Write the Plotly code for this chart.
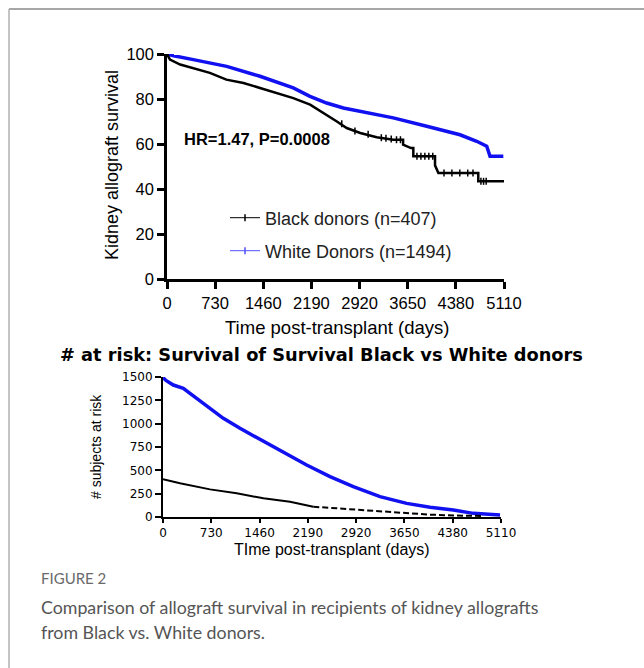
import plotly.graph_objects as go

# ---------------- data ----------------
x_ticks = [0, 730, 1460, 2190, 2920, 3650, 4380, 5110]
surv_ticks = [0, 20, 40, 60, 80, 100]
risk_ticks = [0, 250, 500, 750, 1000, 1250, 1500]

# Kaplan-Meier, White donors (n=1494)
white_days = [0, 100, 399, 905, 1410, 1915, 2168, 2421, 2674, 2927, 3431, 3938,
              4443, 4696, 4848, 4898, 5100]
white_surv = [100, 99.2, 97.5, 94.5, 90.1, 84.9, 81.2, 78.2, 76.0, 74.5, 71.6, 67.9,
              64.1, 61.2, 59.0, 54.5, 54.5]

# Kaplan-Meier, Black donors (n=407)
black_days = [0, 20, 45, 200, 400, 650, 900, 1160, 1410, 1660, 1915, 2170, 2420, 2570,
              2725, 2930, 3180, 3430, 3580, 3580, 3700, 3735, 3735, 4064, 4064, 4115,
              4720, 4720, 5110]
black_surv = [100, 98.5, 97.5, 95.3, 93.8, 91.6, 88.6, 87.1, 84.9, 82.7, 80.4, 77.5, 73.0, 70.1,
              67.1, 64.9, 63.0, 61.9, 61.9, 59.7, 58.2, 58.2, 54.5, 54.5, 50.5, 47.1,
              47.1, 43.4, 43.4]

# censored observations (tick marks) on the Black donor curve
black_cens_days = [2650, 2850, 3050, 3250, 3320, 3400, 3480, 3540, 3790, 3850, 3910,
                   3970, 4030, 4200, 4320, 4440, 4560, 4640, 4760, 4800, 4840]
black_cens_surv = [69.0, 65.8, 64.3, 62.8, 62.6, 62.2, 61.9, 61.9, 54.5, 54.5, 54.5,
                   54.5, 54.5, 47.1, 47.1, 47.1, 47.1, 47.1, 43.4, 43.4, 43.4]

# Number at risk
white_risk_days = [0, 50, 156, 257, 307, 408, 509, 761, 912, 1164, 1467, 1819, 2172,
                   2525, 2877, 3281, 3684, 4037, 4389, 4691, 5095]
white_risk = [1494, 1460, 1414, 1386, 1379, 1325, 1272, 1146, 1057, 950, 830, 700, 557,
              432, 325, 218, 146, 104, 75, 39, 21]
black_risk_days = [0, 257, 711, 1114, 1517, 1920, 2272, 2626, 3028, 3533, 4037, 4540, 4842]
black_risk = [404, 361, 296, 254, 200, 164, 110, 93, 68, 46, 25, 14, 11]

labels = ["Black donors (n=407)", "White Donors (n=1494)"]
hr_text = "HR=1.47, P=0.0008"

BLUE = "#1010f0"
W, H = 644, 668
ARIAL = "Liberation Sans, Arial, sans-serif"


def X(px):
    return px / W


def Y(py):
    return 1 - py / H


fig = go.Figure()

# ---- top panel: KM curves ----
fig.add_trace(go.Scatter(x=white_days, y=white_surv, mode="lines",
                         line=dict(color=BLUE, width=3.5), showlegend=False,
                         xaxis="x", yaxis="y", cliponaxis=False))
fig.add_trace(go.Scatter(x=black_days, y=black_surv, mode="lines",
                         line=dict(color="black", width=2.5), showlegend=False,
                         xaxis="x", yaxis="y", cliponaxis=False))
fig.add_trace(go.Scatter(x=black_cens_days, y=black_cens_surv, mode="markers",
                         marker=dict(symbol="line-ns", size=5,
                                     line=dict(color="black", width=1.5)),
                         showlegend=False, xaxis="x", yaxis="y"))

# legend entries
fig.add_trace(go.Scatter(x=[None], y=[None], mode="lines+markers", name=labels[0],
                         line=dict(color="black", width=1),
                         marker=dict(symbol="line-ns", size=5, line=dict(color="black", width=1.5)),
                         legend="legend", xaxis="x", yaxis="y"))
fig.add_trace(go.Scatter(x=[None], y=[None], mode="lines+markers", name=labels[1],
                         line=dict(color="#5050ff", width=1),
                         marker=dict(symbol="line-ns", size=5, line=dict(color="#5050ff", width=1.5)),
                         legend="legend2", xaxis="x", yaxis="y"))

# ---- bottom panel: number at risk ----
fig.add_trace(go.Scatter(x=white_risk_days, y=white_risk, mode="lines",
                         line=dict(color=BLUE, width=3.5), showlegend=False,
                         xaxis="x2", yaxis="y2", cliponaxis=False))
fig.add_trace(go.Scatter(x=black_risk_days[:7], y=black_risk[:7], mode="lines",
                         line=dict(color="black", width=2), showlegend=False,
                         xaxis="x2", yaxis="y2", cliponaxis=False))
fig.add_trace(go.Scatter(x=black_risk_days[6:], y=black_risk[6:], mode="lines",
                         line=dict(color="black", width=2, dash="6px,3px"), showlegend=False,
                         xaxis="x2", yaxis="y2", cliponaxis=False))

top_font = dict(family=ARIAL, size=16.5, color="black")
bot_font = dict(family="DejaVu Sans, sans-serif", size=12, color="black")

axis_common = dict(showline=True, linecolor="black", showgrid=False, zeroline=False,
                   ticks="outside", tickcolor="black", mirror=False, fixedrange=True)

fig.update_layout(
    width=W, height=H,
    margin=dict(l=0, r=0, t=0, b=0, pad=0, autoexpand=False),
    paper_bgcolor="white", plot_bgcolor="rgba(0,0,0,0)",
    xaxis=dict(domain=[X(167), X(504)], range=[0, 5110], tickvals=x_ticks,
               linewidth=2.5, ticklen=7, tickwidth=2.5, tickfont=top_font,
               anchor="y", **axis_common),
    yaxis=dict(domain=[Y(279), Y(54)], range=[0, 100], tickvals=surv_ticks,
               linewidth=2.5, ticklen=7, tickwidth=2.5, tickfont=top_font,
               anchor="x", **axis_common),
    xaxis2=dict(domain=[X(163), X(501)], range=[0, 5110], tickvals=x_ticks,
                linewidth=2, ticklen=4, tickwidth=2, tickfont=bot_font,
                anchor="y2", **axis_common),
    yaxis2=dict(domain=[Y(517), Y(377)], range=[0, 1500], tickvals=risk_ticks,
                linewidth=2, ticklen=6, tickwidth=2, tickfont=bot_font,
                anchor="x2", **axis_common),
    legend=dict(x=X(225), y=Y(218), xanchor="left", yanchor="middle",
                font=dict(family=ARIAL, size=18, color="#222"),
                bgcolor="rgba(0,0,0,0)", itemwidth=30),
    legend2=dict(x=X(225), y=Y(251), xanchor="left", yanchor="middle",
                 font=dict(family=ARIAL, size=18, color="#222"),
                 bgcolor="rgba(0,0,0,0)", itemwidth=30),
    showlegend=True,
)

annotations = [
    dict(text="<b>" + hr_text + "</b>", x=X(182), y=Y(139), xanchor="left", yanchor="middle",
         font=dict(family=ARIAL, size=16.5, color="black")),
    dict(text="Kidney allograft survival", x=X(112), y=Y(165), textangle=-90,
         xanchor="center", yanchor="middle",
         font=dict(family=ARIAL, size=18, color="black")),
    dict(text="Time post-transplant (days)", x=X(337), y=Y(327), xanchor="center", yanchor="middle",
         font=dict(family=ARIAL, size=18.5, color="black")),
    dict(text="<b># at risk: Survival of Survival Black vs White donors</b>", x=X(321), y=Y(354),
         xanchor="center", yanchor="middle",
         font=dict(family="DejaVu Sans, sans-serif", size=17.8, color="black")),
    dict(text="# subjects at risk", x=X(96), y=Y(447), textangle=-90,
         xanchor="center", yanchor="middle",
         font=dict(family="Liberation Sans Narrow, Liberation Sans, sans-serif", size=14, color="black")),
    dict(text="TIme post-transplant (days)", x=X(332), y=Y(549), xanchor="center", yanchor="middle",
         font=dict(family=ARIAL, size=16, color="black")),
    dict(text="FIGURE 2", x=X(39), y=Y(578), xanchor="left", yanchor="middle",
         font=dict(family="Lato, Open Sans, sans-serif", size=15, color="#6a6a6a")),
    dict(text="Comparison of allograft survival in recipients of kidney allografts",
         x=X(39), y=Y(607), xanchor="left", yanchor="middle",
         font=dict(family="Lato, Open Sans, sans-serif", size=17.8, color="#555555")),
    dict(text="from Black vs. White donors.",
         x=X(39), y=Y(632), xanchor="left", yanchor="middle",
         font=dict(family="Lato, Open Sans, sans-serif", size=17.8, color="#555555")),
]
for a in annotations:
    a["xref"] = "paper"
    a["yref"] = "paper"
    a["showarrow"] = False
fig.update_layout(annotations=annotations)

# figure frame lines
fig.update_layout(shapes=[
    dict(type="line", xref="paper", yref="paper", x0=X(9), x1=1, y0=Y(9), y1=Y(9),
         line=dict(color="#8a8a8a", width=1.5)),
    dict(type="line", xref="paper", yref="paper", x0=X(9), x1=X(9), y0=Y(9), y1=0,
         line=dict(color="#b0b0b0", width=1.5)),
])

fig.write_html("out.html", config={"displayModeBar": False},
               post_script="document.body.style.margin='0';document.body.style.overflow='hidden';")
